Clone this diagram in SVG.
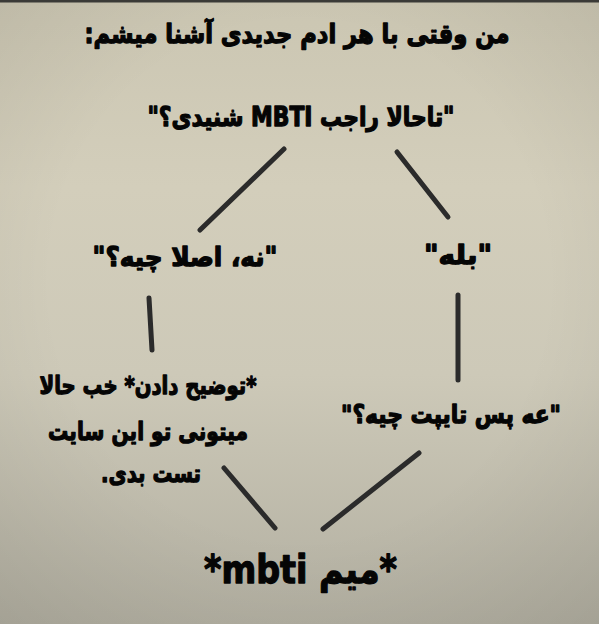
<svg xmlns="http://www.w3.org/2000/svg" width="599" height="624" viewBox="0 0 599 624">
  <defs>
    <linearGradient id="bg" x1="0" y1="0" x2="0" y2="1">
      <stop offset="0" stop-color="#cbc6b2"/>
      <stop offset="0.3" stop-color="#d3cebb"/>
      <stop offset="0.6" stop-color="#cdc9b8"/>
      <stop offset="1" stop-color="#b2afa1"/>
    </linearGradient>
    <radialGradient id="vig" cx="0.5" cy="0.45" r="0.75">
      <stop offset="0.55" stop-color="#000" stop-opacity="0"/>
      <stop offset="1" stop-color="#000" stop-opacity="0.08"/>
    </radialGradient>
  </defs>
  <style>
    .t { font-family: "DejaVu Sans", "Noto Sans", sans-serif; font-weight: bold; fill: #050505; stroke: #050505; stroke-width: 1.3; stroke-linejoin: round; text-anchor: middle; direction: rtl; unicode-bidi: embed; }
    .c line { stroke: #2b2b2b; stroke-width: 5; stroke-linecap: round; fill: none; }
  </style>
  <rect width="599" height="624" fill="url(#bg)"/>
  <rect width="599" height="624" fill="url(#vig)"/>
  <rect x="0" y="0" width="599" height="2.5" fill="#3a3a37"/>

  <g id="title"><text class="t" x="297" y="43" font-size="26" textLength="425" lengthAdjust="spacingAndGlyphs">من وقتی با هر ادم جدیدی آشنا میشم:</text></g>
  <g id="q1"><text class="t" x="301" y="126" font-size="26" textLength="307" lengthAdjust="spacingAndGlyphs">"تاحالا راجب MBTI شنیدی؟"</text></g>
  <g id="no"><text class="t" x="185" y="266" font-size="26" textLength="185" lengthAdjust="spacingAndGlyphs">"نه، اصلا چیه؟"</text></g>
  <g id="yes"><text class="t" x="458" y="264" font-size="26" textLength="68" lengthAdjust="spacingAndGlyphs">"بله"</text></g>
  <g id="explain">
    <text class="t" x="148" y="394" font-size="25" textLength="217" lengthAdjust="spacingAndGlyphs">*توضیح دادن* خب حالا</text>
    <text class="t" x="148" y="440" font-size="25" textLength="200" lengthAdjust="spacingAndGlyphs">میتونی تو این سایت</text>
    <text class="t" x="151" y="482" font-size="25" textLength="100" lengthAdjust="spacingAndGlyphs">تست بدی.</text>
  </g>
  <g id="type"><text class="t" x="451" y="423" font-size="25" textLength="220" lengthAdjust="spacingAndGlyphs">"عه پس تایپت چیه؟"</text></g>
  <g id="meme"><text class="t" x="300.5" y="583" font-size="39" textLength="193" lengthAdjust="spacingAndGlyphs">*میم mbti*</text></g>

  <g id="connectors" class="c">
    <line x1="284" y1="149" x2="200" y2="230"/>
    <line x1="397" y1="152" x2="448" y2="217"/>
    <line x1="149" y1="298" x2="152" y2="350"/>
    <line x1="458" y1="295" x2="458" y2="380"/>
    <line x1="224" y1="468" x2="275" y2="528"/>
    <line x1="419" y1="453" x2="323" y2="529"/>
  </g>
</svg>
